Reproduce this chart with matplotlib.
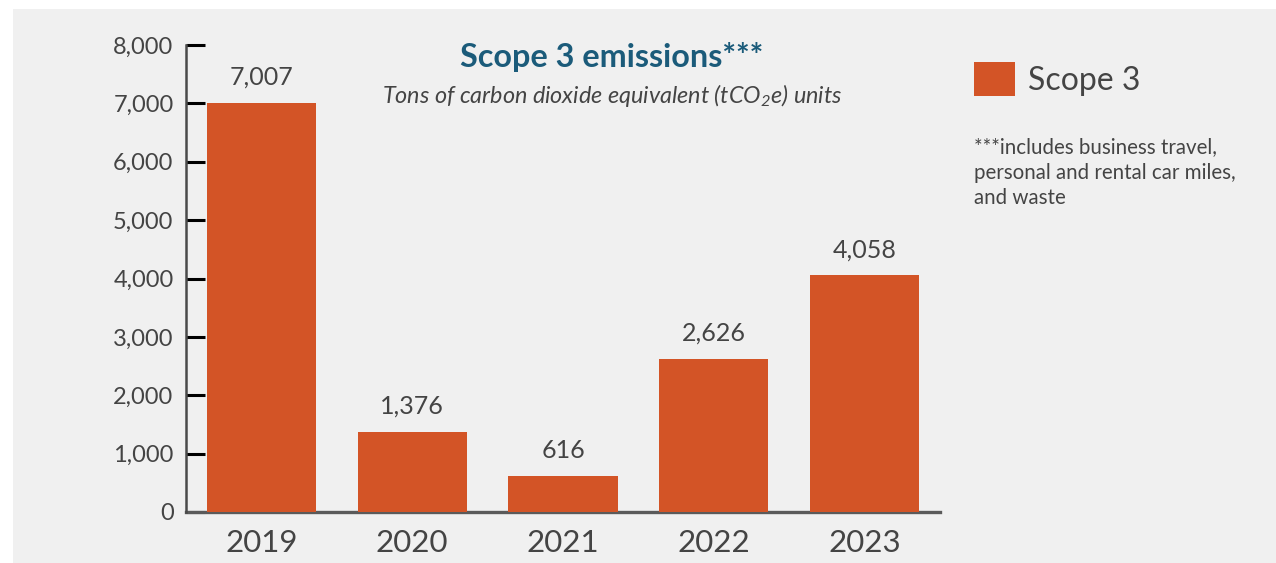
import matplotlib
matplotlib.use("Agg")
import matplotlib.pyplot as plt
from matplotlib.patches import Rectangle

# ---- data ----
years = ["2019", "2020", "2021", "2022", "2023"]
scope3 = [7007, 1376, 616, 2626, 4058]
yticks = [0, 1000, 2000, 3000, 4000, 5000, 6000, 7000, 8000]
title = "Scope 3 emissions***"
subtitle = "Tons of carbon dioxide equivalent (tCO$_2$e) units"
legend_label = "Scope 3"
footnote = "***includes business travel,\npersonal and rental car miles,\nand waste"

BAR = "#d35426"
TXT = "#444444"
TITLE_C = "#1b5b7a"
BG = "#f0f0f0"

plt.rcParams["font.family"] = ["Lato", "DejaVu Sans"]
plt.rcParams["mathtext.default"] = "regular"

W, H = 1276, 563
fig = plt.figure(figsize=(W / 100, H / 100), dpi=100, facecolor="white")
fig.patches.append(Rectangle((13 / W, 0), 1 - 13 / W, 1 - 9 / H,
                             transform=fig.transFigure, facecolor=BG,
                             edgecolor="none", zorder=-10))

ax = fig.add_axes([186 / W, 51 / H, (940 - 186) / W, (512 - 45) / H])
ax.set_facecolor("none")
x = list(range(len(years)))
bars = ax.bar(x, scope3, width=0.723, color=BAR, zorder=3, label=legend_label)
ax.set_xlim(-0.5, 4.5)
ax.set_ylim(0, 8000)
ax.set_yticks(yticks)
ax.set_yticklabels([f"{v:,}" for v in yticks])
ax.set_xticks(x)
ax.set_xticklabels(years)

for s in ["top", "right"]:
    ax.spines[s].set_visible(False)
ax.spines["left"].set_color("#4a4a4a")
ax.spines["left"].set_linewidth(1.8)
ax.spines["bottom"].set_color("#5a5a5a")
ax.spines["bottom"].set_linewidth(2.4)
ax.spines["bottom"].set_zorder(2)

ax.tick_params(axis="y", direction="in", length=13.5, width=2.2, color="black",
               labelsize=17, labelcolor=TXT, pad=9)
ax.tick_params(axis="x", length=0, labelsize=22.5, labelcolor=TXT, pad=12)

ax.bar_label(bars, labels=[f"{v:,}" for v in scope3], padding=10,
             fontsize=18, color=TXT)

fig.text(612 / W, 1 - 66.7 / H, title, ha="center", va="baseline",
         fontsize=23.3, fontweight="bold", color=TITLE_C)
fig.text(612 / W, 1 - 103 / H, subtitle, ha="center", va="baseline",
         fontsize=16.8, style="italic", color=TXT)

leg = fig.legend(handles=[bars], labels=[legend_label], loc="upper left",
                 bbox_to_anchor=(974 / W, 1 - 62 / H), frameon=False,
                 fontsize=23, handlelength=1.28, handleheight=1.28,
                 handletextpad=0.4, borderpad=0, borderaxespad=0,
                 labelcolor=TXT)

fig.text(974 / W, 1 - 204 / H, footnote, ha="left", va="baseline",
         fontsize=14.8, color=TXT, linespacing=1.33)

fig.savefig("out.png", dpi=100, facecolor="white")
